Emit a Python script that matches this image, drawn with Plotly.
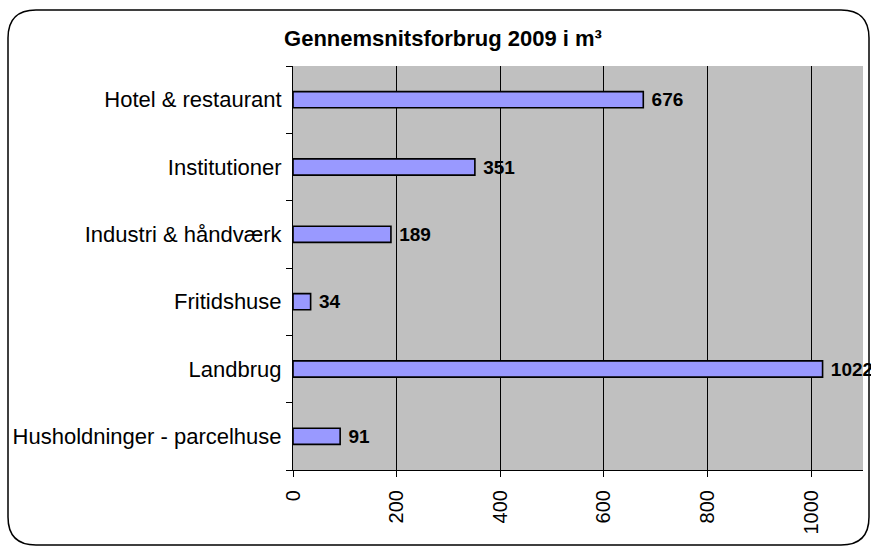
import plotly.graph_objects as go

categories = ["Husholdninger - parcelhuse", "Landbrug", "Fritidshuse",
              "Industri & håndværk", "Institutioner", "Hotel & restaurant"]
values = [91, 1022, 34, 189, 351, 676]
x_ticks = [0, 200, 400, 600, 800, 1000]

W, H = 871, 546
L, R, T, B = 293, 8, 66, 76
pw, ph = W - L - R, H - T - B
FONT = "Liberation Sans, Arial, sans-serif"

def px(x):
    return (x - L) / pw

def py(y):
    return (H - B - y) / ph

fig = go.Figure(go.Bar(
    y=categories, x=values, orientation="h",
    marker=dict(color="#9999FF", line=dict(color="black", width=1.6)),
    texttemplate="\u00a0%{x}", textposition="outside", constraintext="none",
    textfont=dict(family=FONT, size=19, color="black", weight="bold"),
    cliponaxis=False, width=0.24,
))

# rounded frame
x0, x1, y0, y1, r = 8, 869, 10, 545, 28
path = (f"M {px(x0+r)},{py(y0)} L {px(x1-r)},{py(y0)} "
        f"Q {px(x1)},{py(y0)} {px(x1)},{py(y0+r)} "
        f"L {px(x1)},{py(y1-r)} Q {px(x1)},{py(y1)} {px(x1-r)},{py(y1)} "
        f"L {px(x0+r)},{py(y1)} Q {px(x0)},{py(y1)} {px(x0)},{py(y1-r)} "
        f"L {px(x0)},{py(y0+r)} Q {px(x0)},{py(y0)} {px(x0+r)},{py(y0)} Z")

fig.update_layout(
    width=W, height=H,
    margin=dict(l=L, r=R, t=T, b=B, autoexpand=False),
    paper_bgcolor="white", plot_bgcolor="#C0C0C0",
    font=dict(family=FONT, size=20, color="black"),
    title=dict(text="<b>Gennemsnitsforbrug 2009 i m³</b>", x=443 / W, xanchor="center",
               y=1 - 38 / H, yanchor="middle",
               font=dict(family=FONT, size=22, color="black")),
    showlegend=False,
    xaxis=dict(range=[0, 1100], tickvals=x_ticks, tickangle=-90, automargin=False,
               showgrid=True, gridcolor="black", gridwidth=1,
               showline=True, linecolor="black", linewidth=1,
               ticks="outside", ticklen=6, tickcolor="black", ticklabelstandoff=5,
               zeroline=False, tickfont=dict(size=20)),
    yaxis=dict(categoryorder="array", categoryarray=categories, automargin=False,
               showline=True, linecolor="black", linewidth=1,
               ticks="outside", ticklen=6, tickcolor="black", tickson="boundaries",
               showgrid=False, tickfont=dict(size=22), ticklabelstandoff=6),
    shapes=[dict(type="path", path=path, xref="paper", yref="paper",
                 line=dict(color="black", width=1.5), layer="above")],
)

fig.write_html("out.html", config={"displayModeBar": False},
               post_script="document.body.style.margin='0px';")
